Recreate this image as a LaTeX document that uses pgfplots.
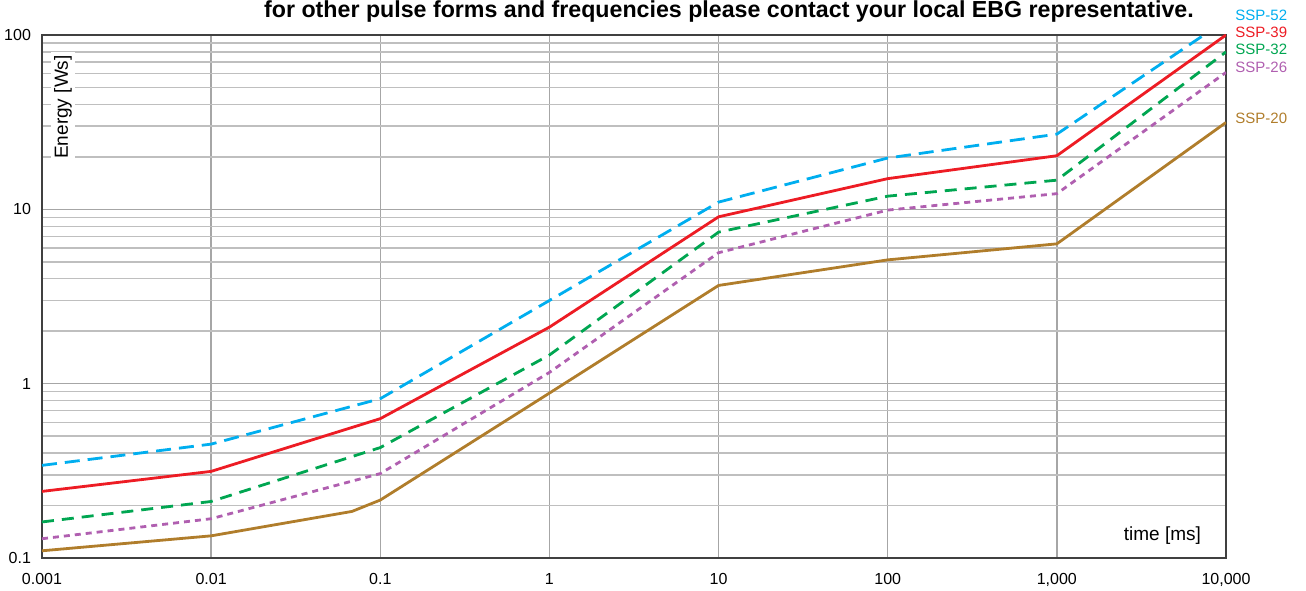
\documentclass[border=0pt]{standalone}
\usepackage{pgfplots}
\pgfplotsset{compat=1.18}
\usepackage{fontspec}
\setmainfont{Liberation Sans}

\definecolor{sspcyan}{RGB}{0,174,239}
\definecolor{sspred}{RGB}{237,28,36}
\definecolor{sspgreen}{RGB}{0,166,81}
\definecolor{sspviolet}{RGB}{176,95,176}
\definecolor{sspbrown}{RGB}{176,125,43}

\begin{document}
\begin{tikzpicture}
\begin{axis}[
    name=ax,
    scale only axis,
    width=592pt, height=261.5pt,
    xmode=log, ymode=log,
    xmin=0.001, xmax=10000,
    ymin=0.1, ymax=100,
    xtick={0.001,0.01,0.1,1,10,100,1000,10000},
    xticklabels={0.001,0.01,0.1,1,10,100,{1,000},{10,000}},
    ytick={0.1,1,10,100},
    yticklabels={0.1,1,10,100},
    major tick length=0pt, minor tick length=0pt,
    xmajorgrids, ymajorgrids, yminorgrids,
    major grid style={gray!70, line width=0.7pt},
    minor grid style={gray!50, line width=0.7pt},
    axis line style={black!75, line width=0.8pt},
    tick label style={font=\fontsize{8}{9}\selectfont},
    xticklabel style={yshift=-4pt},
    yticklabel style={xshift=-2pt},
    clip=true,
]
\addplot[sspcyan, line width=1.4pt, dash pattern=on 7.5pt off 4pt] coordinates {
    (0.001,0.34) (0.01,0.45) (0.1,0.82) (1,3.0) (10,11.0)
    (100,19.7) (1000,27) (7400,100)
};
\addplot[sspred, line width=1.4pt] coordinates {
    (0.001,0.241) (0.01,0.314) (0.1,0.63) (1,2.11) (10,9.06)
    (100,15) (1000,20.3) (10000,100)
};
\addplot[sspgreen, line width=1.4pt, dash pattern=on 6pt off 4pt] coordinates {
    (0.001,0.161) (0.01,0.211) (0.1,0.43) (1,1.46) (10,7.4)
    (100,11.9) (1000,14.7) (10000,80)
};
\addplot[sspviolet, line width=1.4pt, dash pattern=on 3pt off 2.5pt] coordinates {
    (0.001,0.129) (0.01,0.168) (0.1,0.305) (1,1.16) (10,5.64)
    (100,9.9) (1000,12.3) (10000,61)
};
\addplot[sspbrown, line width=1.4pt] coordinates {
    (0.001,0.110) (0.01,0.134) (0.068,0.185) (0.1,0.215) (1,0.883)
    (10,3.66) (100,5.13) (1000,6.34) (10000,31.5)
};
\end{axis}

% labels inside the plot
\node[rotate=90, fill=white, inner sep=1.5pt, font=\fontsize{9.5}{11}\selectfont]
    at ([xshift=10.5pt,yshift=-36pt]ax.north west) {Energy [Ws]};
\node[anchor=south east, font=\fontsize{9.5}{11}\selectfont]
    at ([xshift=-9pt,yshift=3pt]ax.south east) {time [ms]};

% series names on the right
\begin{scope}[every node/.style={anchor=west, inner sep=0pt, font=\fontsize{7.5}{9}\selectfont}]
\node[text=sspcyan]   at ([xshift=4.5pt,yshift=10pt]ax.north east)    {SSP-52};
\node[text=sspred]    at ([xshift=4.5pt,yshift=1.5pt]ax.north east)   {SSP-39};
\node[text=sspgreen]  at ([xshift=4.5pt,yshift=-7pt]ax.north east)    {SSP-32};
\node[text=sspviolet] at ([xshift=4.5pt,yshift=-16pt]ax.north east)   {SSP-26};
\node[text=sspbrown]  at ([xshift=4.5pt,yshift=-41.5pt]ax.north east) {SSP-20};
\end{scope}

% title
\node[anchor=base, font=\bfseries\fontsize{11.6}{13}\selectfont]
    at ([xshift=343.5pt,yshift=8.6pt]ax.north west)
    {for other pulse forms and frequencies please contact your local EBG representative.};

\pgfresetboundingbox
\path ([xshift=-21pt,yshift=-16pt]ax.south west) rectangle ([xshift=632pt,yshift=17.5pt]ax.north west);
\end{tikzpicture}
\end{document}
